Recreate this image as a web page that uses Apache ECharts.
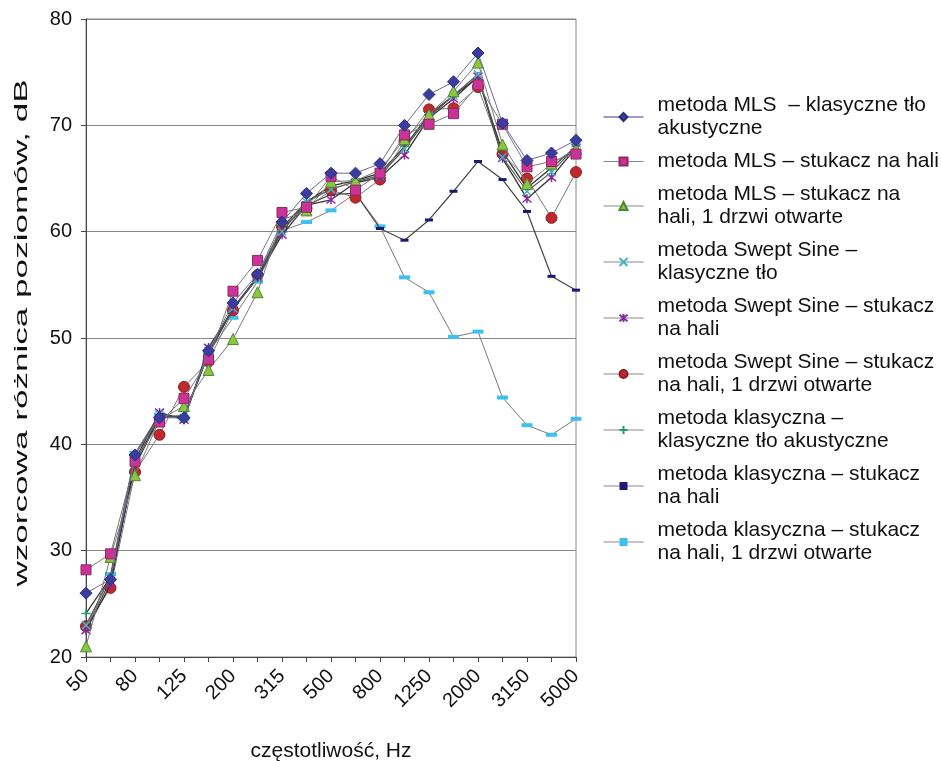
<!DOCTYPE html>
<html><head><meta charset="utf-8">
<script src="https://cdn.jsdelivr.net/npm/echarts@6/dist/echarts.min.js"></script>
<style>html,body{margin:0;padding:0;background:#fff}#c{width:942px;height:761px}</style>
</head><body><div id="c"></div>
<script>
const categories = ['50','63','80','100','125','160','200','250','315','400','500','630','800','1000','1250','1600','2000','2500','3150','4000','5000'];
const yTicks = [20,30,40,50,60,70,80];
const yTitle = 'wzorcowa różnica poziomów, dB';
const xTitle = 'częstotliwość, Hz';
const names = [
  'metoda MLS  – klasyczne tło\nakustyczne',
  'metoda MLS – stukacz na hali',
  'metoda MLS – stukacz na\nhali, 1 drzwi otwarte',
  'metoda Swept Sine –\nklasyczne tło',
  'metoda Swept Sine – stukacz\nna hali',
  'metoda Swept Sine – stukacz\nna hali, 1 drzwi otwarte',
  'metoda klasyczna –\nklasyczne tło akustyczne',
  'metoda klasyczna – stukacz\nna hali',
  'metoda klasyczna – stukacz\nna hali, 1 drzwi otwarte'
];
const mlsKlasyczne   = [26.0,27.3,39.0,42.5,42.5,48.8,53.3,56.0,60.9,63.6,65.5,65.5,66.4,70.0,72.9,74.1,76.8,70.2,66.7,67.4,68.6];
const mlsStukacz     = [28.2,29.7,38.4,42.1,44.3,48.0,54.4,57.3,61.8,62.3,65.2,63.9,65.5,69.1,70.1,71.1,73.8,70.1,66.1,66.6,67.3];
const mlsDrzwi       = [21.0,29.4,37.1,42.3,43.6,47.0,49.9,54.3,61.1,62.0,64.7,64.8,65.8,68.7,71.0,73.2,75.9,68.2,64.5,66.4,67.8];
const sweptKlasyczne = [23.0,27.5,39.0,42.8,42.5,48.8,52.8,55.6,60.0,62.8,64.0,64.7,65.3,67.8,70.8,72.8,74.8,67.0,63.8,65.6,68.0];
const sweptStukacz   = [22.5,26.8,38.5,43.0,42.3,49.1,52.7,55.7,59.7,62.5,63.0,64.6,65.1,67.2,70.7,72.5,74.6,66.9,63.1,65.1,67.9];
const sweptDrzwi     = [22.9,26.5,37.4,40.9,45.4,47.8,52.6,55.9,60.5,62.2,63.9,63.2,64.9,68.5,71.5,71.6,73.6,67.3,65.0,61.3,65.6];
const klasKlasyczne  = [24.1,27.5,38.0,42.5,42.7,48.5,52.8,55.8,60.4,62.8,64.3,64.8,65.5,68.0,71.0,72.8,74.5,67.5,64.1,66.0,68.0];
const klasStukacz    = [22.6,27.2,38.2,42.7,42.6,48.5,52.8,55.6,60.2,62.5,63.5,63.6,60.3,59.2,61.1,63.8,66.6,64.9,61.9,55.8,54.5];
const klasDrzwi      = [22.7,27.8,39.2,42.8,42.4,48.6,51.9,55.3,60.1,60.9,62.0,63.6,60.5,55.7,54.3,50.1,50.6,44.4,41.8,40.9,42.4];

const FONT = 'Liberation Sans';
const lineGrey = '#7a7a7a';
const styles = [
  {data: mlsKlasyczne, symbol:'diamond', size:12, item:{color:'#3a3d9e', borderColor:'#2a2c80', borderWidth:1}, line:'#6a6a9a', lw:1},
  {data: mlsStukacz, symbol:'rect', size:10, item:{color:'#cc3399', borderColor:'#8a2a60', borderWidth:1}, line:lineGrey, lw:1},
  {data: mlsDrzwi, symbol:'triangle', size:11, item:{color:'#8cc63f', borderColor:'#4a8a30', borderWidth:1}, line:lineGrey, lw:1},
  {data: sweptKlasyczne, symbol:'path://M0,0L10,10M10,0L0,10', size:8, item:{color:'none', borderColor:'#3fb6c0', borderWidth:1.5}, line:'#555', lw:1.2},
  {data: sweptStukacz, symbol:'path://M0,0L10,10M10,0L0,10M5,-1L5,11', size:9, item:{color:'none', borderColor:'#8a2a9a', borderWidth:1.5}, line:'#333', lw:1.3},
  {data: sweptDrzwi, symbol:'circle', size:11, item:{color:'#c0282f', borderColor:'#8a2020', borderWidth:1}, line:lineGrey, lw:1},
  {data: klasKlasyczne, symbol:'path://M5,0L5,10M0,5L10,5', size:9, item:{color:'none', borderColor:'#2a9a70', borderWidth:1.5}, line:'#333', lw:1.3},
  {data: klasStukacz, symbol:'rect', size:[8,3], item:{color:'#1a1a70', borderWidth:0}, line:'#444', lw:1.2},
  {data: klasDrzwi, symbol:'rect', size:[11,4], item:{color:'#3cc0f0', borderWidth:0}, line:lineGrey, lw:1}
];

const series = styles.map((s,i)=>({
  name: names[i], type:'line', data: s.data, symbol: s.symbol, symbolSize: s.size,
  showAllSymbol: true, animation:false,
  itemStyle: s.item, lineStyle:{color:s.line, width:s.lw}, z: 10 - i
}));

const chart = echarts.init(document.getElementById('c'), null, {renderer:'canvas'});
chart.setOption({
  backgroundColor:'#ffffff',
  animation:false,
  textStyle:{fontFamily:FONT},
  grid:{left:86, right:366, top:19, bottom:104, show:true, borderColor:'#888', borderWidth:1,
        containLabel:false, outerBoundsMode:'none'},
  legend:{
    orient:'vertical', left:598, top:89, itemWidth:40, itemHeight:10, itemGap:10,
    data: names.map((n,i)=>({name:n, lineStyle:{color: i===0 ? '#3a3d9e' : '#888', width:1}})),
    textStyle:{fontFamily:FONT, fontSize:21, color:'#111', lineHeight:23, padding:[0,0,0,9]}
  },
  graphic:[{
    type:'text', x:22, y:333, rotation:Math.PI/2, scaleX:1.95, scaleY:1,
    style:{text:yTitle, font:'18px "Liberation Sans"', fill:'#111', align:'center', verticalAlign:'middle'}
  }],
  xAxis:{
    type:'category', data:categories, boundaryGap:false,
    name:xTitle, nameLocation:'middle', nameGap:84,
    nameTextStyle:{fontFamily:FONT, fontSize:21, color:'#111'},
    axisLine:{lineStyle:{color:'#444', width:1}},
    axisTick:{show:true, interval:0, length:5, lineStyle:{color:'#444'}},
    axisLabel:{interval:1, rotate:45, fontFamily:FONT, fontSize:20, color:'#111', margin:16},
    splitLine:{show:false}
  },
  yAxis:{
    type:'value', min:20, max:80, interval:10,
    axisLine:{show:true, lineStyle:{color:'#444', width:1}},
    axisTick:{show:true, length:5, lineStyle:{color:'#444'}},
    axisLabel:{fontFamily:FONT, fontSize:20, color:'#111', margin:14,
      formatter: v => yTicks.includes(v) ? String(v) : ''},
    splitLine:{show:true, lineStyle:{color:'#888', width:1}}
  },
  series: series
});
</script></body></html>
